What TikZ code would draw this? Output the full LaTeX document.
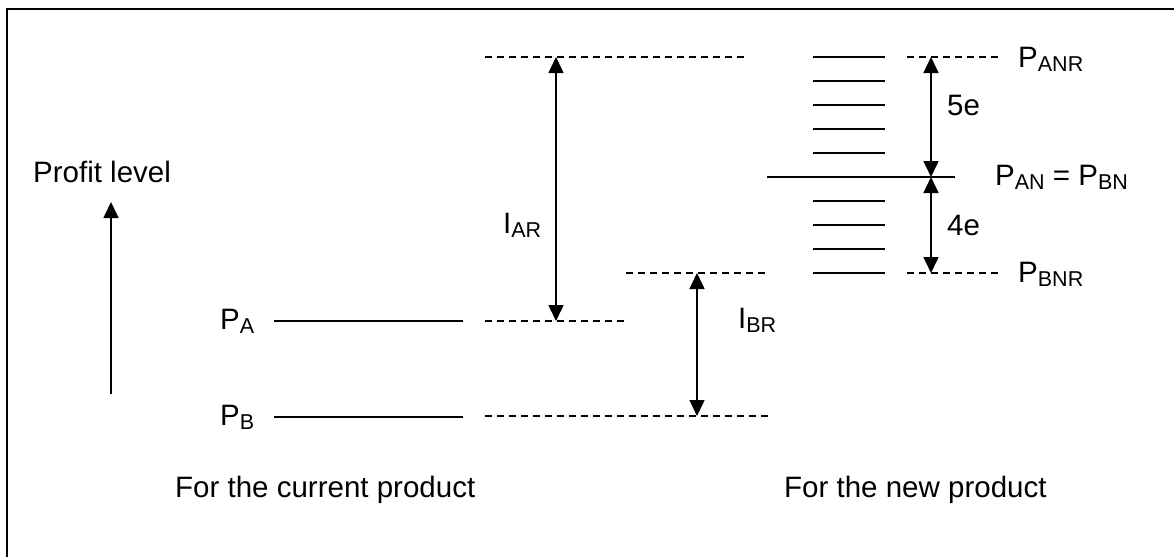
\documentclass[tikz,border=0pt]{standalone}
\usepackage{fontspec}
\setmainfont{Liberation Sans}
\usetikzlibrary{arrows.meta}
\newcommand\sbx[1]{\raisebox{-4pt}{\fontsize{21.5}{24}\selectfont #1}}
\begin{document}
\begin{tikzpicture}[x=1pt,y=-1pt,
  lbl/.style={anchor=base west,inner sep=0pt,font=\fontsize{29.5}{34}\selectfont},
  solidln/.style={line width=1.5pt},
  dashln/.style={line width=1.3pt,dash pattern=on 7pt off 5pt},
  dimarrow/.style={line width=1.5pt,{Triangle[width=15pt,length=16pt]}-{Triangle[width=15pt,length=16pt]}},
  uparrow/.style={line width=1.5pt,-{Triangle[width=15pt,length=16pt]}},
  frameln/.style={line width=2.2pt}]
\useasboundingbox (0,0) rectangle (1174,557);
% frame
\coordinate (fL) at (7,557);
\coordinate (fC) at (7,9);
\coordinate (fR) at (1174,9);
\draw[frameln] (fL) -- (fC) -- (fR);
% labels
\node[lbl] (profit) at (33,182) {Profit level};
\node[lbl] (pa) at (220,329) {P\sbx{A}};
\node[lbl] (pb) at (220,425) {P\sbx{B}};
\node[lbl] (iar) at (503,233) {I\sbx{AR}};
\node[lbl] (ibr) at (738,328) {I\sbx{BR}};
\node[lbl] (five) at (947,115) {5e};
\node[lbl] (four) at (947,235) {4e};
\node[lbl] (panr) at (1018,67) {P\sbx{ANR}};
\node[lbl] (pan) at (995,185) {P\sbx{AN} = P\sbx{BN}};
\node[lbl] (pbnr) at (1018,282) {P\sbx{BNR}};
\node[lbl] (cur) at (175,497) {For the current product};
\node[lbl] (new) at (784,497) {For the new product};
% profit arrow
\coordinate (pr0) at (111,394);
\coordinate (pr1) at (111,202);
\draw[uparrow] (pr0) -- (pr1);
% current product levels
\coordinate (paS) at (274,321); \coordinate (paE) at (463,321);
\coordinate (pbS) at (274,417); \coordinate (pbE) at (463,417);
\draw[solidln] (paS) -- (paE);
\draw[solidln] (pbS) -- (pbE);
\coordinate (paD0) at (485,321); \coordinate (paD1) at (627,321);
\coordinate (pbD0) at (485,416); \coordinate (pbD1) at (768,416);
\coordinate (arD0) at (485,57);  \coordinate (arD1) at (745,57);
\coordinate (brD0) at (626,273); \coordinate (brD1) at (768,273);
\draw[dashln] (paD0) -- (paD1);
\draw[dashln] (pbD0) -- (pbD1);
\draw[dashln] (arD0) -- (arD1);
\draw[dashln] (brD0) -- (brD1);
\coordinate (ar0) at (556,57); \coordinate (ar1) at (556,321);
\coordinate (br0) at (697,273); \coordinate (br1) at (697,416);
\draw[dimarrow] (ar0) -- (ar1);
\draw[dimarrow] (br0) -- (br1);
% new product levels
\foreach \yy in {57,81,105,129,153,201,225,249,273}{
  \draw[solidln] (813,\yy) coordinate (s0) -- (885,\yy) coordinate (s1);
}
\coordinate (anL) at (767,177); \coordinate (anR) at (955,177);
\draw[solidln] (anL) -- (anR);
\coordinate (nrD0) at (907,57);  \coordinate (nrD1) at (998,57);
\coordinate (bnD0) at (907,273); \coordinate (bnD1) at (998,273);
\draw[dashln] (nrD0) -- (nrD1);
\draw[dashln] (bnD0) -- (bnD1);
\coordinate (e0) at (931,57); \coordinate (e1) at (931,177); \coordinate (e2) at (931,273);
\draw[dimarrow] (e0) -- (e1);
\draw[dimarrow] (e1) -- (e2);
\end{tikzpicture}
\end{document}
